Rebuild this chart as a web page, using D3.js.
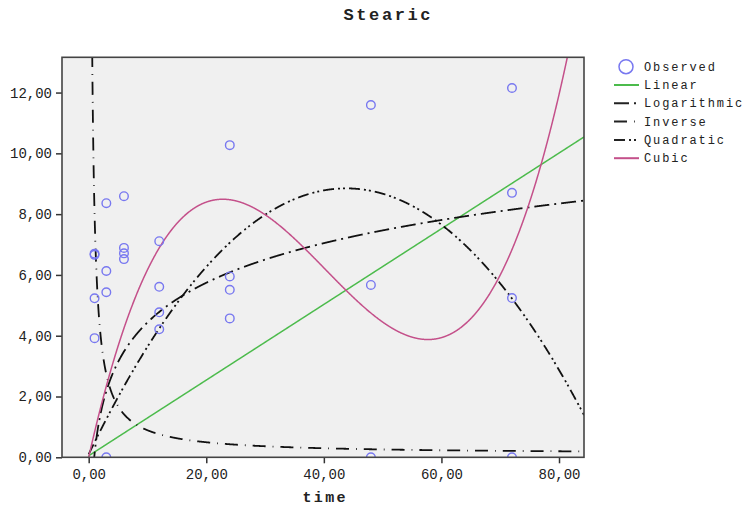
<!DOCTYPE html>
<html>
<head>
<meta charset="utf-8">
<script src="https://cdn.jsdelivr.net/npm/d3@7"></script>
<style>
  body { margin: 0; background: #fff; }
  text { font-family: "Courier New", "Liberation Mono", monospace; fill: #222; }
</style>
</head>
<body>
<div id="app"></div>
<script>
// observed values, grouped by time
const times = [1, 1, 1, 1, 3, 3, 3, 3, 6, 6, 6, 6, 12, 12, 12, 12, 24, 24, 24, 24, 48, 48, 48, 72, 72, 72, 72];
const observed = [6.70, 6.66, 5.23, 3.92, 8.36, 6.13, 5.43, 0.0, 8.59, 6.89, 6.71, 6.52,
                  7.11, 5.61, 4.77, 4.21, 10.27, 5.95, 5.51, 4.57, 11.59, 5.67, 0.0,
                  12.15, 8.70, 5.24, 0.0];

// fitted model coefficients
const linearCoef = [0.05, 0.1245];
const logCoef = [0.11, 1.88];
const inverseCoef = [0.10, 7.9];
const quadCoef = [0.10, 0.3994, -0.004559];
const cubicCoef = [0, 0.8575, -0.02623, 0.0002172];

const xTicks = [0, 20, 40, 60, 80];
const yTicks = [0, 2, 4, 6, 8, 10, 12];
const legendLabels = ["Observed", "Linear", "Logarithmic", "Inverse", "Quadratic", "Cubic"];

const w = 746, h = 510;
const pLeft = 62, pRight = 584, pTop = 57.3, pBottom = 457.3;

const x = d3.scaleLinear().domain([-4.54, 84.25]).range([pLeft, pRight]);
const y = d3.scaleLinear().domain([0, 13.16]).range([pBottom, pTop]);

const svg = d3.select("#app").append("svg")
  .attr("width", w)
  .attr("height", h);

svg.append("defs").append("clipPath").attr("id", "plotclip")
  .append("rect")
  .attr("x", pLeft).attr("y", pTop)
  .attr("width", pRight - pLeft).attr("height", pBottom - pTop);

svg.append("rect")
  .attr("x", pLeft).attr("y", pTop)
  .attr("width", pRight - pLeft).attr("height", pBottom - pTop)
  .attr("fill", "#f0f0f0");

// title
svg.append("text")
  .attr("x", 387).attr("y", 20)
  .attr("text-anchor", "middle")
  .attr("font-size", "17px")
  .attr("font-weight", "bold")
  .attr("textLength", 87)
  .attr("lengthAdjust", "spacing")
  .text("Stearic");

// axes
const fmt = function (d) { return d3.format(".2f")(d).replace(".", ","); };
const xAxis = svg.append("g")
  .attr("transform", "translate(0," + pBottom + ")")
  .call(d3.axisBottom(x).tickValues(xTicks).tickSize(6).tickPadding(6).tickFormat(fmt));
const yAxis = svg.append("g")
  .attr("transform", "translate(" + pLeft + ",0)")
  .call(d3.axisLeft(y).tickValues(yTicks).tickSize(6).tickPadding(4).tickFormat(fmt));

[xAxis, yAxis].forEach(function (g) {
  g.select(".domain").remove();
  g.selectAll("line").attr("stroke", "#333").attr("stroke-width", 1.5);
  g.selectAll("text")
    .attr("font-size", "14px")
    .attr("font-family", "'Courier New', 'Liberation Mono', monospace")
    .attr("fill", "#222");
});

svg.append("text")
  .attr("x", 324).attr("y", 502)
  .attr("text-anchor", "middle")
  .attr("font-size", "15px")
  .attr("font-weight", "bold")
  .attr("textLength", 43)
  .attr("lengthAdjust", "spacing")
  .text("time");

// curves
const plot = svg.append("g").attr("clip-path", "url(#plotclip)");

const models = [
  { name: "Linear", color: "#4cbb4c", dash: null, width: 1.5, from: 0,
    f: function (t) { return linearCoef[0] + linearCoef[1] * t; } },
  { name: "Logarithmic", color: "#111", dash: "15,5,2,5", width: 1.8, from: 0.5,
    f: function (t) { return logCoef[0] + logCoef[1] * Math.log(t); } },
  { name: "Inverse", color: "#111", dash: "13,7,0.8,7", width: 1.8, from: 0.4,
    f: function (t) { return inverseCoef[0] + inverseCoef[1] / t; } },
  { name: "Quadratic", color: "#111", dash: "11,4,2,3,2,4", width: 1.8, from: 0,
    f: function (t) { return quadCoef[0] + quadCoef[1] * t + quadCoef[2] * t * t; } },
  { name: "Cubic", color: "#c4508a", dash: null, width: 1.5, from: 0,
    f: function (t) { return cubicCoef[0] + cubicCoef[1] * t + cubicCoef[2] * t * t + cubicCoef[3] * t * t * t; } }
];

const line = d3.line()
  .x(function (d) { return x(d[0]); })
  .y(function (d) { return y(d[1]); });

models.forEach(function (m) {
  const pts = d3.range(m.from, 84.3, 0.05).map(function (t) { return [t, Math.max(-2, Math.min(16, m.f(t)))]; });
  plot.append("path")
    .datum(pts)
    .attr("d", line)
    .attr("fill", "none")
    .attr("stroke", m.color)
    .attr("stroke-width", m.width)
    .attr("stroke-dasharray", m.dash);
});

// observed circles
plot.selectAll("circle.obs")
  .data(observed)
  .enter()
  .append("circle")
  .attr("class", "obs")
  .attr("cx", function (d, i) { return x(times[i]); })
  .attr("cy", function (d) { return y(d); })
  .attr("r", 4.3)
  .attr("fill", "none")
  .attr("stroke", "#7878f0")
  .attr("stroke-width", 1.4);

// frame
svg.append("rect")
  .attr("x", pLeft).attr("y", pTop)
  .attr("width", pRight - pLeft).attr("height", pBottom - pTop)
  .attr("fill", "none")
  .attr("stroke", "#444")
  .attr("stroke-width", 1.6);

// legend
const legend = svg.append("g");
legendLabels.forEach(function (label, i) {
  const ly = 66.7 + i * 18.3;
  if (i === 0) {
    legend.append("circle")
      .attr("cx", 626).attr("cy", ly).attr("r", 7)
      .attr("fill", "none").attr("stroke", "#7878f0").attr("stroke-width", 1.5);
  } else {
    const m = models[i - 1];
    legend.append("line")
      .attr("x1", 614).attr("x2", 639)
      .attr("y1", ly).attr("y2", ly)
      .attr("stroke", m.color === "#111" ? "#222" : m.color)
      .attr("stroke-width", 2)
      .attr("stroke-dasharray", m.dash);
  }
  legend.append("text")
    .attr("x", 644).attr("y", ly + 4)
    .attr("font-size", "12px")
    .attr("letter-spacing", "1.9px")
    .text(label);
});
</script>
</body>
</html>
